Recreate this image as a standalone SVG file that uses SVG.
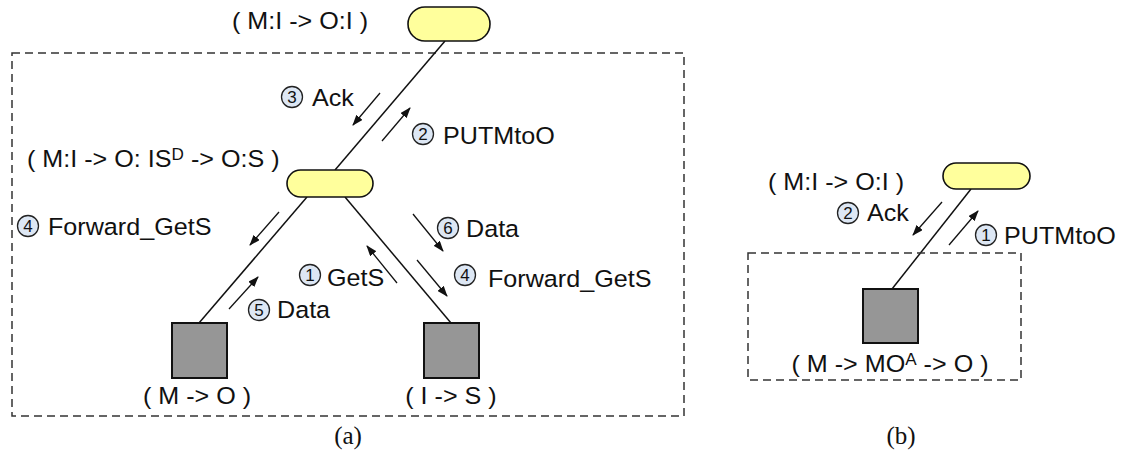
<svg xmlns="http://www.w3.org/2000/svg" width="1128" height="458" viewBox="0 0 1128 458">
  <style>
    .frame { fill: none; stroke: #333; stroke-width: 1.5; stroke-dasharray: 8 5; }
    .pill { fill: #ffff9c; stroke: #111; stroke-width: 1.6; }
    .box { fill: #969696; stroke: #111; stroke-width: 2; }
    .link { stroke: #111; stroke-width: 1.5; fill: none; }
    .msg { stroke: #111; stroke-width: 1.3; fill: none; marker-end: url(#head); }
    .lbl { font-family: "Liberation Sans", Arial, sans-serif; font-size: 23.5px; fill: #111; }
    .num circle { fill: #dde7f4; stroke: #222; stroke-width: 1.3; }
    .num text { font-family: "Liberation Sans", Arial, sans-serif; font-size: 17px; fill: #111; text-anchor: middle; }
    .cap { font-family: "Liberation Serif", "Times New Roman", serif; font-size: 25px; fill: #111; text-anchor: middle; }
  </style>
  <defs>
    <marker id="head" viewBox="0 0 11 8" refX="10" refY="4" markerWidth="11" markerHeight="8" markerUnits="userSpaceOnUse" orient="auto">
      <path d="M0,0 L11,4 L0,8 Z" fill="#111"/>
    </marker>
  </defs>

  <!-- panel (a) -->
  <rect class="frame" x="12" y="53" width="672" height="363"/>

  <g id="connectors">
    <line class="link" x1="445" y1="41" x2="335" y2="170"/>
    <line class="link" x1="307" y1="197" x2="199" y2="323"/>
    <line class="link" x1="345" y1="197" x2="451" y2="323"/>
    <line class="link" x1="971" y1="189" x2="892" y2="289"/>

    <line class="msg" x1="380" y1="93" x2="353" y2="125"/>
    <line class="msg" x1="382" y1="141" x2="410" y2="108"/>
    <line class="msg" x1="279" y1="212" x2="250" y2="245"/>
    <line class="msg" x1="229" y1="309" x2="258" y2="277"/>
    <line class="msg" x1="397" y1="283" x2="367" y2="246"/>
    <line class="msg" x1="413" y1="214" x2="443" y2="251"/>
    <line class="msg" x1="417" y1="260" x2="447" y2="296"/>
    <line class="msg" x1="942" y1="202" x2="913" y2="235"/>
    <line class="msg" x1="949" y1="245" x2="978" y2="211"/>
  </g>

  <g id="home-a">
    <rect class="pill" x="408" y="7" width="82" height="34" rx="17"/>
    <text class="lbl" transform="translate(232,29) scale(1.07,1)">( M:I -&gt; O:I )</text>
  </g>

  <g id="owner-a">
    <rect class="pill" x="287" y="170" width="86" height="27" rx="13.5"/>
    <text class="lbl" transform="translate(27,167) scale(1.07,1)">( M:I -&gt; O: IS<tspan font-size="16" dy="-7">D</tspan><tspan dy="7"> -&gt; O:S )</tspan></text>
  </g>

  <g id="cache-mo">
    <rect class="box" x="172" y="323" width="55" height="55"/>
    <text class="lbl" text-anchor="middle" transform="translate(197,404) scale(1.07,1)">( M -&gt; O )</text>
  </g>

  <g id="cache-is">
    <rect class="box" x="424" y="323" width="55" height="55"/>
    <text class="lbl" text-anchor="middle" transform="translate(451,404) scale(1.07,1)">( I -&gt; S )</text>
  </g>

  <g id="messages-a">
    <g class="num"><circle cx="292" cy="97" r="10.5"/><text x="292" y="103">3</text></g>
    <text class="lbl" transform="translate(312,106) scale(1.07,1)">Ack</text>

    <g class="num"><circle cx="423" cy="134" r="10.5"/><text x="423" y="140">2</text></g>
    <text class="lbl" transform="translate(443,144) scale(1.07,1)">PUTMtoO</text>

    <g class="num"><circle cx="28" cy="226" r="10.5"/><text x="28" y="232">4</text></g>
    <text class="lbl" transform="translate(48,235) scale(1.07,1)">Forward_GetS</text>

    <g class="num"><circle cx="310" cy="275" r="10.5"/><text x="310" y="281">1</text></g>
    <text class="lbl" transform="translate(327,286) scale(1.07,1)">GetS</text>

    <g class="num"><circle cx="259" cy="310" r="10.5"/><text x="259" y="316">5</text></g>
    <text class="lbl" transform="translate(277,318) scale(1.07,1)">Data</text>

    <g class="num"><circle cx="448" cy="228" r="10.5"/><text x="448" y="234">6</text></g>
    <text class="lbl" transform="translate(466,237) scale(1.07,1)">Data</text>

    <g class="num"><circle cx="465" cy="275" r="10.5"/><text x="465" y="281">4</text></g>
    <text class="lbl" transform="translate(488,287) scale(1.07,1)">Forward_GetS</text>
  </g>

  <text class="cap" x="348" y="444">(a)</text>

  <!-- panel (b) -->
  <rect class="frame" x="748" y="253" width="273" height="127"/>

  <g id="home-b">
    <rect class="pill" x="943" y="163" width="87" height="26" rx="13"/>
    <text class="lbl" transform="translate(768,190) scale(1.07,1)">( M:I -&gt; O:I )</text>
  </g>

  <g id="cache-b">
    <rect class="box" x="863" y="289" width="55" height="54"/>
    <text class="lbl" text-anchor="middle" transform="translate(890,372) scale(1.07,1)">( M -&gt; MO<tspan font-size="16" dy="-7">A</tspan><tspan dy="7"> -&gt; O )</tspan></text>
  </g>

  <g id="messages-b">
    <g class="num"><circle cx="848" cy="213" r="10.5"/><text x="848" y="219">2</text></g>
    <text class="lbl" transform="translate(867,221) scale(1.07,1)">Ack</text>

    <g class="num"><circle cx="986" cy="235" r="10.5"/><text x="986" y="241">1</text></g>
    <text class="lbl" transform="translate(1004,244) scale(1.07,1)">PUTMtoO</text>
  </g>

  <text class="cap" x="901" y="444">(b)</text>
</svg>
